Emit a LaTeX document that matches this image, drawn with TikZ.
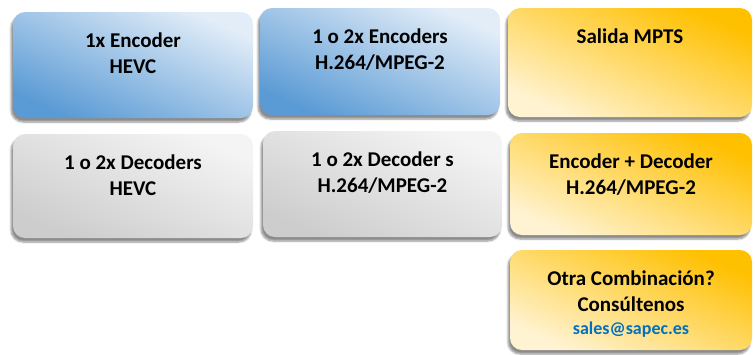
\documentclass[tikz,border=0pt]{standalone}
\usepackage{fontspec}
\setmainfont{Carlito}
\usepackage{tikz}
\usetikzlibrary{positioning,shadows.blur}

\definecolor{bluedark}{HTML}{5B9BD5}
\definecolor{bluelight}{HTML}{E2EDF8}
\definecolor{graydark}{HTML}{CDCDCD}
\definecolor{graylight}{HTML}{F4F4F4}
\definecolor{orangedark}{HTML}{FFC000}
\definecolor{orangelight}{HTML}{FFF3D2}
\definecolor{maillink}{HTML}{0070C0}

\begin{document}
\begin{tikzpicture}[x=1pt, y=-1pt,
    box/.style={rectangle, rounded corners=12pt, minimum width=240pt, minimum height=105pt,
        blur shadow={shadow xshift=-2pt, shadow yshift=-4pt, shadow opacity=45, shadow blur steps=6}},
    bluebox/.style={box, bottom color=bluedark, top color=bluelight, shading angle=-24},
    graybox/.style={box, bottom color=graydark, top color=graylight, shading angle=-24},
    orangebox/.style={box, bottom color=orangelight, top color=orangedark, shading angle=-24},
    boxtext/.style={align=center, font=\bfseries\fontsize{21}{26}\selectfont, inner sep=0pt, anchor=north}
    ]
        \useasboundingbox (0,0) rectangle (755,354);
        
        %Boxes
        \node[bluebox, minimum width=240pt, minimum height=106pt]
            (eH)    at (133,65)     {};
        \node[bluebox, minimum width=240pt, minimum height=107pt]
            (eM)    at (380,61.5)   {};
        \node[orangebox, minimum width=244pt, minimum height=109pt]
            (out)   at (630,62.5)   {};
        \node[graybox, minimum width=240pt, minimum height=104pt]
            (dH)    at (133,186)    {};
        \node[graybox, minimum width=239pt, minimum height=106pt]
            (dM)    at (382.5,184)  {};
        \node[orangebox, minimum width=242pt, minimum height=102pt]
            (eD)    at (631,184)    {};
        \node[orangebox, minimum width=242pt, minimum height=100pt]
            (other) at (631,300)    {};
        
        %Texts
        \node[boxtext]    
            (teH)    [below=21pt of eH.north]     {1x Encoder\\HEVC};
        \node[boxtext]    
            (teM)    [below=21pt of eM.north]     {1 o 2x Encoders\\H.264/MPEG-2};
        \node[boxtext]    
            (tout)   [below=21pt of out.north]    {Salida MPTS};
        \node[boxtext]    
            (tdH)    [below=21pt of dH.north]     {1 o 2x Decoders\\HEVC};
        \node[boxtext]    
            (tdM)    [below=21pt of dM.north]     {1 o 2x Decoder s\\H.264/MPEG-2};
        \node[boxtext]    
            (teD)    [below=21pt of eD.north]     {Encoder + Decoder\\H.264/MPEG-2};
        \node[boxtext]    
            (tother) [below=21pt of other.north]  {Otra Combinación?\\Consúltenos\\[-3pt]
                {\fontsize{18}{20}\selectfont\color{maillink}sales@sapec.es}};
    \end{tikzpicture}
\end{document}
